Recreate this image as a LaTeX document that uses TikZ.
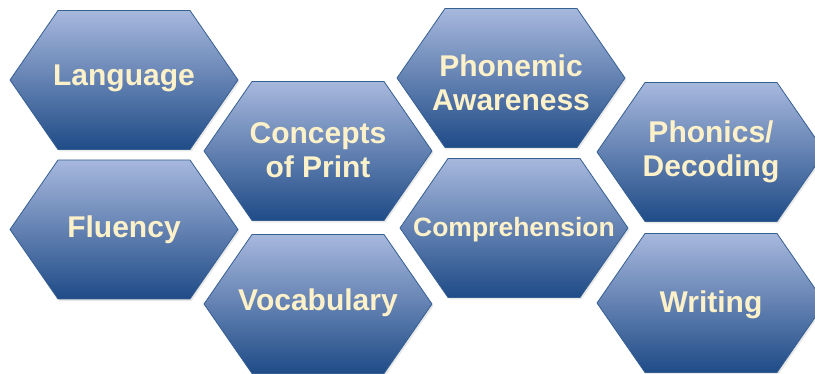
\documentclass[tikz,border=0pt]{standalone}
\usepackage{fontspec}
\setmainfont{Liberation Sans}
\usetikzlibrary{shadows}
\definecolor{hextop}{HTML}{A7B8DD}
\definecolor{hexbot}{HTML}{1F4B87}
\definecolor{hexline}{HTML}{365F92}
\definecolor{hextext}{HTML}{FDF1C9}
\tikzset{
  hexshape/.style={draw=hexline, line width=0.8pt, top color=hextop, bottom color=hexbot,
    drop shadow={opacity=0.18, shadow xshift=1.5pt, shadow yshift=-2pt}},
  hexlabel/.style={text=hextext, font=\bfseries\fontsize{30}{34}\selectfont, align=center, inner sep=0pt},
  smalllabel/.style={hexlabel, font=\bfseries\fontsize{26.5}{32}\selectfont}
}
\newcommand\hexcell[6]{%
  \path[hexshape] (#1-114,#2) -- (#1-66,#2+69.5) -- (#1+66,#2+69.5) -- (#1+114,#2) -- (#1+66,#2-69.5) -- (#1-66,#2-69.5) -- cycle;
  \node[#5] (#3) at (#1,#2+#6) {#4};}
\begin{document}
\begin{tikzpicture}[x=1pt,y=1pt]
\useasboundingbox (0,0) rectangle (815,374);
\clip (0,0) rectangle (815,374);
\hexcell{124}{294}{language}{Language}{hexlabel}{2}
\hexcell{124}{144.5}{fluency}{Fluency}{hexlabel}{0}
\hexcell{318}{223}{concepts}{Concepts\\of Print}{hexlabel}{1}
\hexcell{318}{70}{vocabulary}{Vocabulary}{hexlabel}{1}
\hexcell{511}{296}{phonemic}{Phonemic\\Awareness}{hexlabel}{-5}
\hexcell{514}{146}{comprehension}{Comprehension}{smalllabel}{-2}
\hexcell{711}{222}{phonics}{Phonics/\\Decoding}{hexlabel}{0}
\hexcell{711}{71}{writing}{Writing}{hexlabel}{-2}
\end{tikzpicture}
\end{document}
